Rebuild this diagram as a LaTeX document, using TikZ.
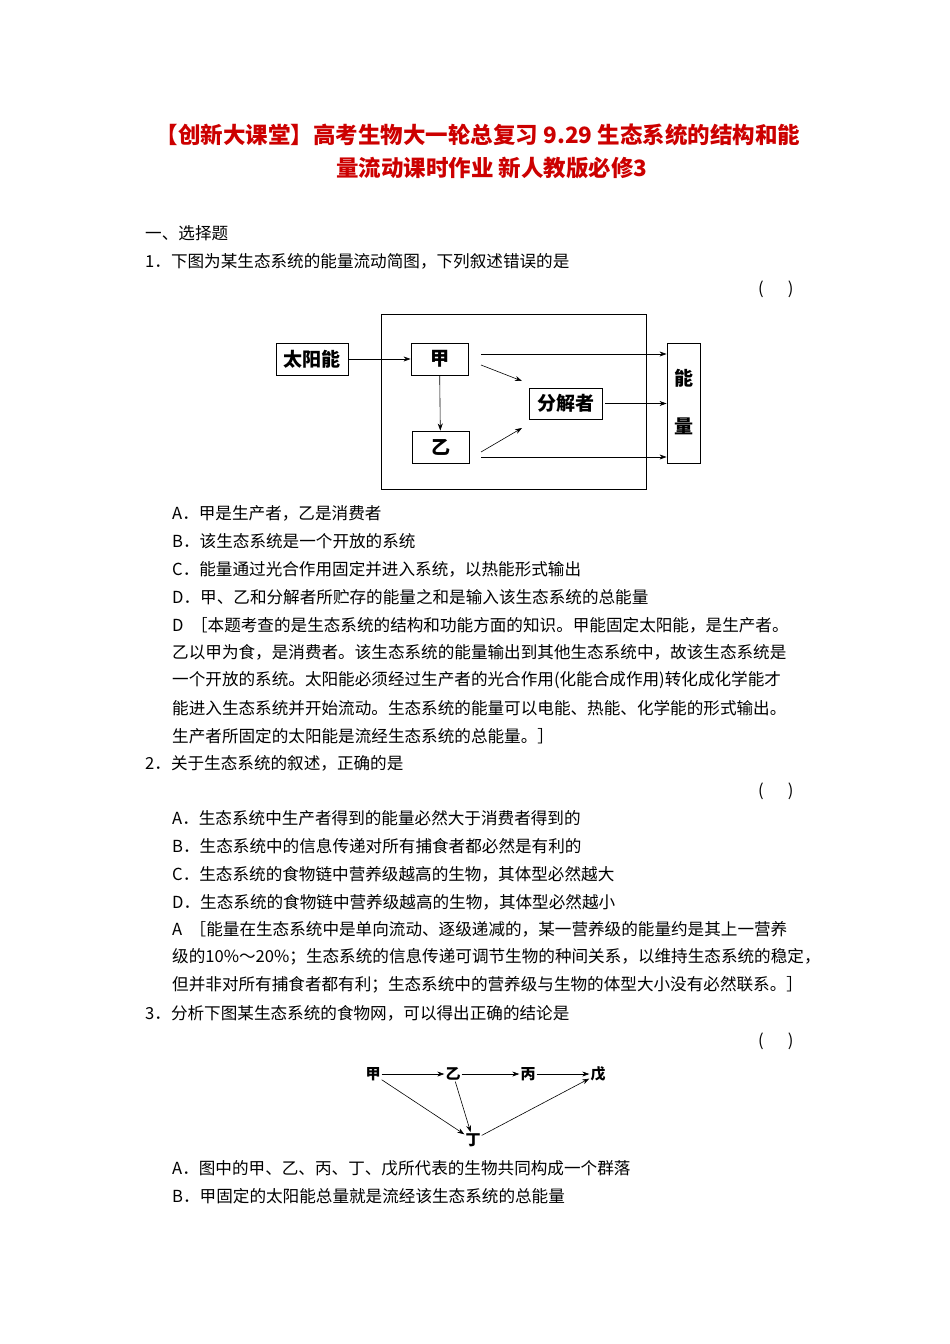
\documentclass[tikz,border=0pt]{standalone}
\usepackage{fontspec}
\setmainfont{Noto Sans CJK SC}
\usetikzlibrary{arrows.meta}
\begin{document}
\begin{tikzpicture}[x=1pt,y=-1pt,
 t/.style={anchor=west,inner sep=0pt,font=\fontsize{16.6}{16.6}\selectfont},
 bx/.style={draw,line width=0.9pt,inner sep=0pt,font=\fontsize{19}{19}\selectfont\bfseries},
 ar/.style={-{Stealth[length=7pt,width=5pt]},line width=0.6pt},
 sm/.style={inner sep=1pt,font=\fontsize{15}{15}\selectfont\bfseries}]
\useasboundingbox (0,0) rectangle (950,1344);
\node[font=\fontsize{22.5}{22.5}\selectfont\bfseries,text=red!80!black] (ti1) at (478,135) {【创新大课堂】高考生物大一轮总复习 9.29 生态系统的结构和能};
\node[font=\fontsize{22.5}{22.5}\selectfont\bfseries,text=red!80!black] (ti2) at (492,168) {量流动课时作业 新人教版必修3};
\node[t] (l0) at (145,233) {一、选择题};
\node[t] (l1) at (145,261) {1．下图为某生态系统的能量流动简图，下列叙述错误的是};
\node[t] (p1) at (758,289) {(\quad\ \ )};
% diagram 1
\draw[line width=0.9pt] (381,314) rectangle (646,489);
\node[bx,minimum width=72pt,minimum height=32pt] (sun) at (312,359) {太阳能};
\node[bx,minimum width=57pt,minimum height=32pt] (jia) at (439.5,359) {甲};
\node[bx,minimum width=57pt,minimum height=32pt] (yi) at (440.5,447) {乙};
\node[bx,minimum width=73pt,minimum height=31pt] (fen) at (565.5,403.5) {分解者};
\node[draw,line width=0.9pt,minimum width=33pt,minimum height=120pt] (ny) at (683.5,403) {};
\node[font=\fontsize{19}{19}\selectfont\bfseries] (n1) at (683.5,378) {能};
\node[font=\fontsize{19}{19}\selectfont\bfseries] (n2) at (683.5,426) {量};
\draw[ar] (sun) -- (jia);
\draw[ar] (jia) -- (yi);
\draw[ar] (jia.east |- 0,354) ++(13,0) coordinate (ja) -- (ja -| ny.west) ;
\coordinate (j2) at (481,365); \coordinate (j3) at (522,381);
\draw[ar] (j2) -- (j3);
\coordinate (y2) at (481,452); \coordinate (y3) at (522,428);
\draw[ar] (y2) -- (y3);
\draw[ar] (fen.east) ++(3,0) coordinate (fa) -- (fa -| ny.west);
\coordinate (y4) at (481,457);
\draw[ar] (y4) -- (y4 -| ny.west);
\node[t] (a1) at (172,513) {A．甲是生产者，乙是消费者};
\node[t] (a2) at (172,541) {B．该生态系统是一个开放的系统};
\node[t] (a3) at (172,569) {C．能量通过光合作用固定并进入系统，以热能形式输出};
\node[t] (a4) at (172,597) {D．甲、乙和分解者所贮存的能量之和是输入该生态系统的总能量};
\node[t] (a5) at (172,625) {D\ \ ［本题考查的是生态系统的结构和功能方面的知识。甲能固定太阳能，是生产者。};
\node[t] (a6) at (172,652) {乙以甲为食，是消费者。该生态系统的能量输出到其他生态系统中，故该生态系统是};
\node[t] (a7) at (172,680) {一个开放的系统。太阳能必须经过生产者的光合作用(化能合成作用)转化成化学能才};
\node[t] (a8) at (172,708) {能进入生态系统并开始流动。生态系统的能量可以电能、热能、化学能的形式输出。};
\node[t] (a9) at (172,736) {生产者所固定的太阳能是流经生态系统的总能量。］};
\node[t] (l2) at (145,763) {2．关于生态系统的叙述，正确的是};
\node[t] (p2) at (758,791) {(\quad\ \ )};
\node[t] (b1) at (172,818) {A．生态系统中生产者得到的能量必然大于消费者得到的};
\node[t] (b2) at (172,846) {B．生态系统中的信息传递对所有捕食者都必然是有利的};
\node[t] (b3) at (172,874) {C．生态系统的食物链中营养级越高的生物，其体型必然越大};
\node[t] (b4) at (172,902) {D．生态系统的食物链中营养级越高的生物，其体型必然越小};
\node[t] (b5) at (172,929) {A\ \ ［能量在生态系统中是单向流动、逐级递减的，某一营养级的能量约是其上一营养};
\node[t] (b6) at (172,957) {级的10\%～20\%；生态系统的信息传递可调节生物的种间关系，以维持生态系统的稳定，};
\node[t] (b7) at (172,985) {但并非对所有捕食者都有利；生态系统中的营养级与生物的体型大小没有必然联系。］};
\node[t] (l3) at (145,1013) {3．分析下图某生态系统的食物网，可以得出正确的结论是};
\node[t] (p3) at (758,1041) {(\quad\ \ )};
% diagram 2
\node[sm] (g1) at (373,1074) {甲};
\node[sm] (g2) at (453,1074) {乙};
\node[sm] (g3) at (528,1074) {丙};
\node[sm] (g4) at (598,1074) {戊};
\node[sm] (g5) at (473,1140) {丁};
\draw[ar] (g1) -- (g2);
\draw[ar] (g2) -- (g3);
\draw[ar] (g3) -- (g4);
\draw[ar] (g1) -- (g5);
\draw[ar] (g2) -- (g5);
\draw[ar] (g5) -- (g4);
\node[t] (c1) at (172,1168) {A．图中的甲、乙、丙、丁、戊所代表的生物共同构成一个群落};
\node[t] (c2) at (172,1196) {B．甲固定的太阳能总量就是流经该生态系统的总能量};
\end{tikzpicture}
\end{document}
